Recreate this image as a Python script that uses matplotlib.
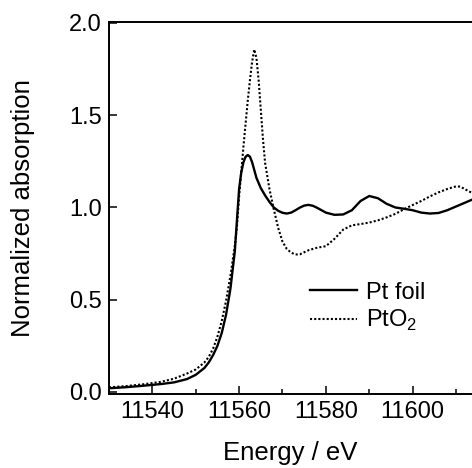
import matplotlib
matplotlib.use('Agg')
import matplotlib.pyplot as plt
from matplotlib.ticker import MultipleLocator, FormatStrFormatter

plt.rcParams['font.family'] = ['Liberation Sans', 'DejaVu Sans']
plt.rcParams['mathtext.fontset'] = 'custom'
plt.rcParams['mathtext.rm'] = 'Liberation Sans'

# Pt L3-edge XANES
pt_foil_e = [11530, 11534, 11538, 11542, 11545, 11548, 11550, 11552, 11553, 11554,
             11555, 11556, 11557, 11558, 11559, 11560, 11560.5, 11561, 11561.5, 11562,
             11562.5, 11563, 11564, 11565, 11566, 11567, 11568, 11569, 11570, 11571,
             11572, 11573, 11574, 11575, 11576, 11577, 11578, 11580, 11582, 11584,
             11586, 11588, 11590, 11592, 11594, 11596, 11598, 11600, 11602, 11604,
             11606, 11608, 11610, 11612, 11614]
pt_foil_mu = [0.020, 0.026, 0.034, 0.043, 0.052, 0.070, 0.093, 0.130, 0.160, 0.200,
              0.250, 0.320, 0.420, 0.560, 0.760, 1.100, 1.190, 1.245, 1.275, 1.284,
              1.275, 1.245, 1.160, 1.105, 1.065, 1.030, 1.000, 0.982, 0.971, 0.967,
              0.972, 0.985, 0.999, 1.010, 1.014, 1.009, 0.998, 0.972, 0.960, 0.962,
              0.985, 1.035, 1.062, 1.050, 1.020, 1.000, 0.993, 0.985, 0.972, 0.967,
              0.970, 0.985, 1.005, 1.025, 1.045]

pto2_e = [11530, 11534, 11538, 11542, 11545, 11548, 11550, 11552, 11553, 11554,
          11555, 11556, 11557, 11558, 11559, 11559.5, 11560, 11561, 11562, 11562.5,
          11563, 11563.5, 11564, 11564.5, 11565, 11565.5, 11566, 11567, 11568, 11569,
          11570, 11571, 11572, 11573, 11574, 11576, 11578, 11580, 11582, 11584,
          11586, 11588, 11590, 11592, 11594, 11596, 11598, 11600, 11602, 11604,
          11606, 11608, 11610, 11611, 11612, 11614]
pto2_mu = [0.025, 0.032, 0.042, 0.055, 0.072, 0.100, 0.122, 0.160, 0.190, 0.235,
           0.300, 0.385, 0.495, 0.630, 0.790, 0.895, 1.060, 1.330, 1.580, 1.690,
           1.790, 1.856, 1.810, 1.690, 1.530, 1.370, 1.240, 1.100, 0.990, 0.890,
           0.815, 0.775, 0.755, 0.745, 0.746, 0.768, 0.782, 0.790, 0.830, 0.880,
           0.903, 0.910, 0.918, 0.930, 0.946, 0.965, 0.990, 1.013, 1.035, 1.060,
           1.082, 1.100, 1.114, 1.113, 1.100, 1.075]

fig = plt.figure(figsize=(4.72, 4.68), dpi=100)
ax = fig.add_axes([109/472, 74/468, 363/472, 372/468])

ax.plot(pt_foil_e, pt_foil_mu, color='black', lw=1.7, label='Pt foil')
ax.plot(pto2_e, pto2_mu, color='black', lw=1.5, ls=(0, (1, 1)), label='PtO$_\\mathregular{2}$')

ax.set_xlim(11530, 11613.7)
ax.set_ylim(-0.011, 2.005)
ax.xaxis.set_major_locator(MultipleLocator(20))
ax.xaxis.set_minor_locator(MultipleLocator(10))
ax.yaxis.set_major_locator(MultipleLocator(0.5))
ax.yaxis.set_major_formatter(FormatStrFormatter('%.1f'))

ax.spines['right'].set_visible(False)
for s in ['left', 'bottom', 'top']:
    ax.spines[s].set_linewidth(1.4)
ax.tick_params(which='both', direction='in', labelsize=17, width=1.1, top=False, right=False)
ax.tick_params(which='major', length=6, pad=5)
ax.tick_params(which='minor', length=3.5)

ax.set_xlabel('Energy / eV', fontsize=18.5, va='center')
ax.set_ylabel('Normalized absorption', fontsize=18.5, va='center')
ax.xaxis.set_label_coords(0.5, -0.159)
ax.yaxis.set_label_coords(-0.237, 0.5)

ax.legend(loc='lower left', bbox_to_anchor=(0.52, 0.131), frameon=False, fontsize=17,
          handlelength=2.0, handletextpad=0.4, labelspacing=0.2, borderpad=0)

fig.savefig('out.png', dpi=100)
